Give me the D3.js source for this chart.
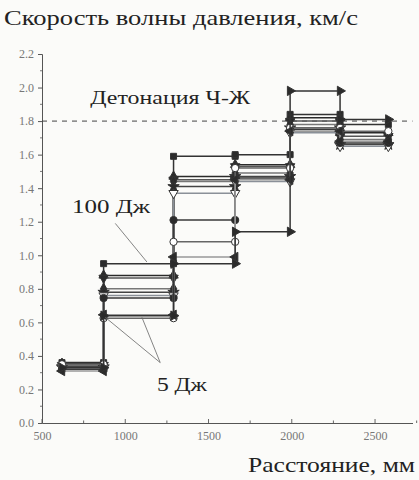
<!DOCTYPE html>
<html>
<head>
<meta charset="utf-8">
<script src="https://cdn.jsdelivr.net/npm/d3@7"></script>
<style>
  body { margin: 0; background: #fbfbf9; }
  svg { display: block; font-family: "Liberation Serif", "DejaVu Serif", serif; }
  .tick text { fill: #777; font-size: 12px; font-family: "Liberation Serif", "DejaVu Serif", serif; }
</style>
</head>
<body>
<div id="chart"></div>
<script>
// sensor positions, mm
var sensorX = [620, 870, 1290, 1660, 1990, 2290, 2580];

// velocity between neighbouring sensors, km/s (one value per interval)
var runNames = ["100 Дж", "r2", "r3", "r4", "r5", "r6", "r7", "5 Дж (a)", "5 Дж (b)", "r10"];
var runValues = [
    [0.36, 0.95, 1.59, 1.60, 1.84, 1.78],
    [0.355, 0.88, 1.47, 1.54, 1.82, 1.73],
    [0.345, 0.865, 1.45, 1.53, 1.80, 1.71],
    [0.34, 0.80, 1.44, 1.49, 1.78, 1.69],
    [0.335, 0.78, 1.41, 1.47, 1.76, 1.66],
    [0.33, 0.76, 1.37, 1.44, 1.73, 1.65],
    [0.32, 0.745, 1.21, 1.46, 1.75, 1.67],
    [0.35, 0.625, 1.08, 1.52, 1.76, 1.74],
    [0.31, 0.645, 0.99, 1.45, 1.74, 1.68],
    [0.33, 0.64, 0.95, 1.14, 1.98, 1.81]
];
var runMarkers = ["square", "up", "down", "diamond", "star", "downWhite", "circle", "circleWhite", "left", "right"];
var runColors = ["#333", "#2a2a2a", "#555", "#777", "#444", "#8a9098", "#3a3a3a", "#666", "#999", "#333"];

var xTicks = [500, 1000, 1500, 2000, 2500];
var yTicks = [0.0, 0.2, 0.4, 0.6, 0.8, 1.0, 1.2, 1.4, 1.6, 1.8, 2.0, 2.2];
var cjLevel = 1.8;

// label pointer lines, data coordinates
var pointer100 = [[[940, 1.19], [1130, 0.96]]];
var pointer5 = [[[1210, 0.36], [880, 0.63]], [[1210, 0.36], [1100, 0.63]]];

var svgWidth = 419;
var svgHeight = 480;

var svg = d3.select("#chart")
    .append("svg")
    .attr("width", svgWidth)
    .attr("height", svgHeight);

var x = d3.scaleLinear().domain([500, 2725]).range([42, 412.5]);
var y = d3.scaleLinear().domain([0, 2.2]).range([423, 54]);

// axes
var bottomAxis = d3.axisBottom(x).tickValues(xTicks).tickSize(0).tickPadding(8).tickFormat(d3.format("d"));
var leftAxis = d3.axisLeft(y).tickValues(yTicks).tickSize(4).tickPadding(4).tickFormat(d3.format(".1f"));

var gx = svg.append("g")
    .attr("transform", `translate(0, ${y(0)})`)
    .call(bottomAxis);
gx.select(".domain").attr("stroke", "#555");

// x ticks point inward
svg.append("g").selectAll("line")
    .data(d3.range(500, 2751, 250))
    .enter()
    .append("line")
    .attr("x1", d => x(d)).attr("x2", d => x(d))
    .attr("y1", y(0)).attr("y2", d => y(0) - (d % 500 == 0 ? 4 : 2.5))
    .attr("stroke", "#666");

var gy = svg.append("g")
    .attr("transform", `translate(${x(500)}, 0)`)
    .call(leftAxis);
gy.select(".domain").attr("stroke", "#555");
gy.selectAll(".tick line").attr("stroke", "#555");

// minor y ticks
svg.append("g").selectAll("line")
    .data(d3.range(0.1, 2.2, 0.2))
    .enter()
    .append("line")
    .attr("x1", x(500)).attr("x2", x(500) - 2)
    .attr("y1", d => y(d)).attr("y2", d => y(d))
    .attr("stroke", "#777");

// CJ detonation level
svg.append("line")
    .attr("x1", x(500)).attr("x2", x(2725))
    .attr("y1", y(cjLevel)).attr("y2", y(cjLevel))
    .attr("stroke", "#444")
    .attr("stroke-width", 1)
    .attr("stroke-dasharray", "5,5");

function markerPath(kind) {
    var t = d3.symbolCircle;
    var size = 42;
    if (kind == "square") { t = d3.symbolSquare; size = 36; }
    if (kind == "up" || kind == "down" || kind == "downWhite" || kind == "left" || kind == "right") { t = d3.symbolTriangle; size = 38; }
    if (kind == "diamond") { t = d3.symbolDiamond; size = 36; }
    if (kind == "star") { t = d3.symbolStar; size = 40; }
    return d3.symbol().type(t).size(size)();
}
function markerRotate(kind) {
    if (kind == "down" || kind == "downWhite") return 180;
    if (kind == "left") return -90;
    if (kind == "right") return 90;
    return 0;
}

// step lines
var stepLine = d3.line().x(d => x(d[0])).y(d => y(d[1]));

runValues.forEach(function (vals, i) {
    var pts = [];
    vals.forEach(function (v, k) {
        pts.push([sensorX[k], v]);
        pts.push([sensorX[k + 1], v]);
    });
    var g = svg.append("g").attr("class", "run");
    g.append("path")
        .attr("d", stepLine(pts))
        .attr("fill", "none")
        .attr("stroke", runColors[i])
        .attr("stroke-width", 1.5);

    var kind = runMarkers[i];
    var white = kind == "circleWhite" || kind == "downWhite";
    g.selectAll("path.mk")
        .data(pts)
        .enter()
        .append("path")
        .attr("class", "mk")
        .attr("d", markerPath(kind))
        .attr("transform", d => `translate(${x(d[0])}, ${y(d[1])}) rotate(${markerRotate(kind)})`)
        .attr("fill", white ? "#fff" : "#2b2b2b")
        .attr("stroke", "#333")
        .attr("stroke-width", 1);
});

// pointer lines for energy labels
svg.append("g").selectAll("line")
    .data(pointer100.concat(pointer5))
    .enter()
    .append("line")
    .attr("x1", d => x(d[0][0])).attr("y1", d => y(d[0][1]))
    .attr("x2", d => x(d[1][0])).attr("y2", d => y(d[1][1]))
    .attr("stroke", "#666")
    .attr("stroke-width", 0.8);

// texts (glyphs stretched to the widths of the scan)
function label(tx, ty, size, len, str) {
    svg.append("text")
        .attr("x", tx).attr("y", ty)
        .attr("font-size", size)
        .attr("textLength", len)
        .attr("lengthAdjust", "spacingAndGlyphs")
        .attr("fill", "#222")
        .text(str);
}
label(4, 25, 22, 354, "Скорость волны давления, км/с");
label(x(790), y(1.9), 19, 160, "Детонация Ч-Ж");
label(x(680), y(1.25), 19, 78, "100 Дж");
label(x(1190), y(0.19), 19, 50, "5 Дж");
label(248, 472, 22, 167, "Расстояние, мм");
</script>
</body>
</html>
